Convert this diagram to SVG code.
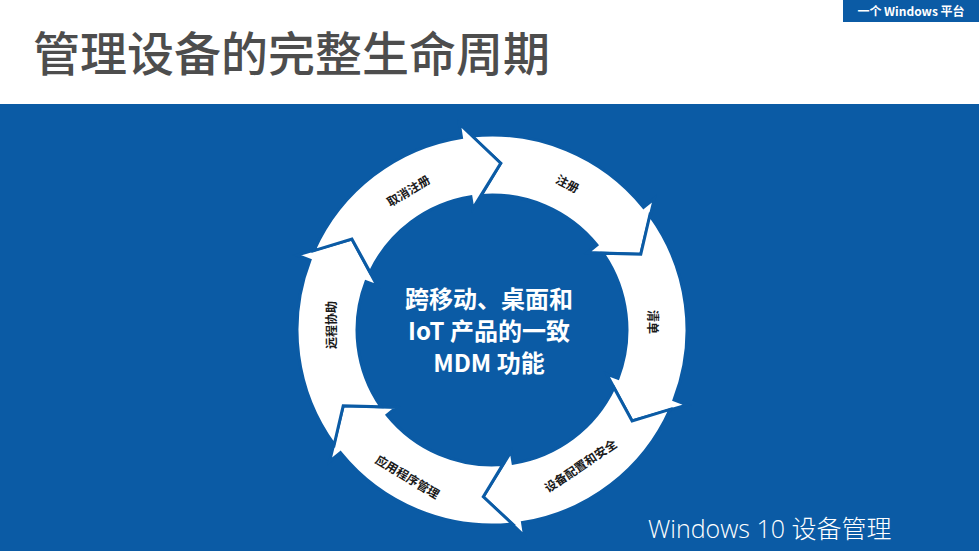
<svg xmlns="http://www.w3.org/2000/svg" width="979" height="551" viewBox="0 0 979 551">
<style>
.arrow{fill:#ffffff;stroke:#0b5ba5;stroke-width:3;stroke-linejoin:miter}
.lbl{font-family:"Noto Sans CJK SC","Liberation Sans",sans-serif;font-size:12px;font-weight:700;fill:#1a1a1a;text-anchor:middle;dominant-baseline:central}
.center{font-family:"Noto Sans CJK SC","Liberation Sans",sans-serif;font-size:24px;font-weight:700;fill:#ffffff;text-anchor:middle}
</style>
<rect x="0" y="0" width="979" height="104" fill="#ffffff"/>
<rect x="0" y="104" width="979" height="447" fill="#0b5ba5"/>
<g id="badge">
<rect x="843" y="0" width="136" height="22" fill="#0b5ba5"/>
<text x="911" y="16" font-family="Noto Sans CJK SC, Liberation Sans, sans-serif" font-size="12" font-weight="700" fill="#ffffff" text-anchor="middle">一个 Windows 平台</text>
</g>
<text id="title" x="33" y="71" font-family="Noto Sans CJK SC, Liberation Sans, sans-serif" font-size="47" font-weight="500" fill="#4d4d4d">管理设备的完整生命周期</text>
<g id="connectors"></g>
<g id="node-zhuce">
<path class="arrow" d="M471.6,136.1 A195,195 0 0 1 643.5,207.3 L654.4,198.5 L640.8,254.2 L587.6,252.6 L596.9,245.0 A135,135 0 0 0 481.2,195.4 L500.7,163.2 Z"/>
<text class="lbl" transform="translate(568,183) rotate(28)">注册</text>
</g>
<g id="node-qingdan">
<path class="arrow" d="M649.8,215.4 A195,195 0 0 1 674.0,399.9 L687.1,404.9 L632.1,421.0 L606.8,374.1 L618.0,378.4 A135,135 0 0 0 603.1,253.3 L640.8,254.2 Z"/>
<text class="lbl" transform="translate(653,322) rotate(90)">清单</text>
</g>
<g id="node-config">
<path class="arrow" d="M670.1,409.3 A195,195 0 0 1 522.5,522.6 L524.7,536.4 L483.3,496.8 L511.2,451.5 L513.1,463.3 A135,135 0 0 0 614.0,387.9 L632.1,421.0 Z"/>
<text class="lbl" transform="translate(580,465) rotate(-34)">设备配置和安全</text>
</g>
<g id="node-app">
<path class="arrow" d="M512.4,523.9 A195,195 0 0 1 340.5,452.7 L329.6,461.5 L343.2,405.8 L396.4,407.4 L387.1,415.0 A135,135 0 0 0 502.8,464.6 L483.3,496.8 Z"/>
<text class="lbl" transform="translate(408,476) rotate(31)">应用程序管理</text>
</g>
<g id="node-remote">
<path class="arrow" d="M334.2,444.6 A195,195 0 0 1 310.0,260.1 L296.9,255.1 L351.9,239.1 L377.2,285.9 L366.0,281.6 A135,135 0 0 0 380.9,406.7 L343.2,405.8 Z"/>
<text class="lbl" transform="translate(330,325) rotate(-90)">远程协助</text>
</g>
<g id="node-unenroll">
<path class="arrow" d="M313.9,250.7 A195,195 0 0 1 461.5,137.4 L459.3,123.6 L500.7,163.2 L472.8,208.5 L470.9,196.7 A135,135 0 0 0 370.1,272.1 L351.9,239.1 Z"/>
<text class="lbl" transform="translate(408,190) rotate(-31)">取消注册</text>
</g>
<g id="center">
<text class="center" x="489" y="308">跨移动、桌面和</text>
<text class="center" x="489" y="340">IoT 产品的一致</text>
<text class="center" x="489" y="372">MDM 功能</text>
</g>
<text id="footer" x="648" y="538" font-family="Open Sans, Noto Sans CJK SC, sans-serif" font-size="25" font-weight="300" fill="#ffffff">Windows 10 设备管理</text>
</svg>
